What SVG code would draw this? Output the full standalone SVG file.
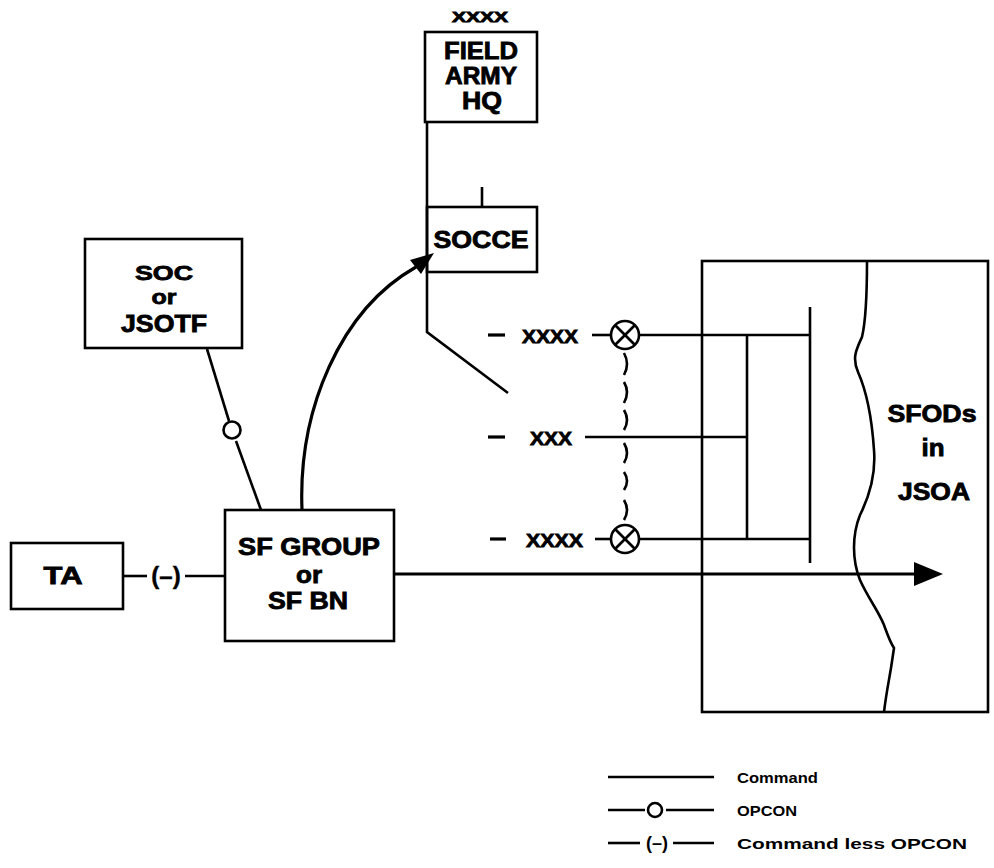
<svg xmlns="http://www.w3.org/2000/svg" width="994" height="868" viewBox="0 0 994 868">
<defs>
<style>
.box{fill:none;stroke:#000;stroke-width:2.6}
.ln{fill:none;stroke:#000;stroke-width:2.6}
.thk{fill:none;stroke:#000;stroke-width:3.2}
.t{font-family:"Liberation Sans",Arial,sans-serif;font-weight:bold;font-size:23px;text-anchor:middle;fill:#000;stroke:#000;stroke-width:0.8}
.x{font-family:"Liberation Sans",Arial,sans-serif;font-weight:bold;font-size:18px;fill:#000;stroke:#000;stroke-width:0.8}
.lg{font-family:"Liberation Sans",Arial,sans-serif;font-weight:bold;font-size:15px;fill:#000}
</style>
</defs>
<rect width="994" height="868" fill="#fff"/>

<g id="connectors">
<polyline class="ln" points="427,122 427,332 508,393"/>
<line class="ln" x1="482" y1="187" x2="482" y2="207"/>
<path class="thk" d="M302,510 C298,410 340,310 416,267"/>
<polygon points="434,253 421,274 410,260" fill="#000"/>
<line class="ln" x1="207" y1="349" x2="229" y2="421"/>
<circle class="ln" cx="232" cy="430" r="8.5"/>
<line class="ln" x1="236" y1="441" x2="261" y2="510"/>
<line class="ln" x1="123" y1="576" x2="147" y2="576"/>
<text x="166" y="584" class="t" style="font-size:24px;stroke-width:0.4">(–)</text>
<line class="ln" x1="185" y1="576" x2="225" y2="576"/>
<line class="thk" x1="394" y1="574" x2="918" y2="574"/>
<polygon points="943,574 914,562 914,586" fill="#000"/>
<line class="thk" x1="488" y1="335" x2="505" y2="335"/>
<line class="thk" x1="488" y1="437" x2="505" y2="437"/>
<line class="thk" x1="490" y1="539" x2="506" y2="539"/>
<line class="ln" x1="592" y1="335" x2="611" y2="335"/>
<line class="ln" x1="595" y1="539" x2="611" y2="539"/>
<g id="cx1">
<circle class="ln" cx="625" cy="335" r="14"/>
<line class="ln" x1="615" y1="325" x2="635" y2="345"/>
<line class="ln" x1="635" y1="325" x2="615" y2="345"/>
</g>
<g id="cx2">
<circle class="ln" cx="625" cy="539" r="14"/>
<line class="ln" x1="615" y1="529" x2="635" y2="549"/>
<line class="ln" x1="635" y1="529" x2="615" y2="549"/>
</g>
<line class="ln" x1="639" y1="335" x2="810" y2="335"/>
<line class="ln" x1="585" y1="437" x2="747" y2="437"/>
<line class="ln" x1="639" y1="539" x2="810" y2="539"/>
<line class="ln" x1="747" y1="335" x2="747" y2="539"/>
<line class="ln" x1="810" y1="307" x2="810" y2="563"/>
<g class="ln">
<path d="M624,353 Q630,364 624,375"/>
<path d="M624,382 Q630,392 624,403"/>
<path d="M624,410 Q630,420 624,430"/>
<path d="M624,443 Q630,453 624,463"/>
<path d="M624,472 Q630,481 624,490"/>
<path d="M624,500 Q630,510 624,520"/>
</g>
<path class="ln" d="M867,261 C867,300 866,320 862,337 C856,350 852,358 858,372 C866,390 872,420 874,450 C876,475 870,495 860,515 C852,535 852,560 860,580 C868,598 878,610 884,625 C888,636 890,642 894,648 L891,668 C889,680 886,695 884,712"/>
</g>

<g id="field-army-hq">
<text x="480" y="22" class="x" style="font-size:14px" text-anchor="middle" textLength="56" lengthAdjust="spacingAndGlyphs">XXXX</text>
<rect class="box" x="425" y="32" width="112" height="90"/>
<text x="481" y="59" class="t" textLength="74" lengthAdjust="spacingAndGlyphs">FIELD</text>
<text x="481" y="84" class="t" textLength="72" lengthAdjust="spacingAndGlyphs">ARMY</text>
<text x="482" y="109" class="t" textLength="40" lengthAdjust="spacingAndGlyphs">HQ</text>
</g>

<g id="socce">
<rect class="box" x="427" y="207" width="110" height="65"/>
<text x="481" y="248" class="t" textLength="95" lengthAdjust="spacingAndGlyphs">SOCCE</text>
</g>

<g id="soc-jsotf">
<rect class="box" x="85" y="239" width="157" height="109"/>
<text x="164" y="280" class="t" style="font-size:21px" textLength="58" lengthAdjust="spacingAndGlyphs">SOC</text>
<text x="164" y="304" class="t" style="font-size:21px" textLength="25" lengthAdjust="spacingAndGlyphs">or</text>
<text x="164" y="332" class="t" textLength="86" lengthAdjust="spacingAndGlyphs">JSOTF</text>
</g>

<g id="ta">
<rect class="box" x="11" y="543" width="112" height="66"/>
<text x="63" y="584" class="t" textLength="39" lengthAdjust="spacingAndGlyphs">TA</text>
</g>

<g id="sf-group">
<rect class="box" x="225" y="510" width="169" height="131"/>
<text x="309" y="555" class="t" textLength="142" lengthAdjust="spacingAndGlyphs">SF GROUP</text>
<text x="309" y="583" class="t" textLength="26" lengthAdjust="spacingAndGlyphs">or</text>
<text x="308" y="609" class="t" textLength="80" lengthAdjust="spacingAndGlyphs">SF BN</text>
</g>

<g id="echelons">
<text x="522" y="343" class="x" textLength="56" lengthAdjust="spacingAndGlyphs">XXXX</text>
<text x="530" y="445" class="x" textLength="42" lengthAdjust="spacingAndGlyphs">XXX</text>
<text x="526" y="547" class="x" textLength="57" lengthAdjust="spacingAndGlyphs">XXXX</text>
</g>

<g id="jsoa">
<rect class="box" x="702" y="261" width="286" height="451"/>
<text x="932" y="422" class="t" textLength="89" lengthAdjust="spacingAndGlyphs">SFODs</text>
<text x="933" y="456" class="t" textLength="23" lengthAdjust="spacingAndGlyphs">in</text>
<text x="934" y="500" class="t" textLength="72" lengthAdjust="spacingAndGlyphs">JSOA</text>
</g>

<g id="legend">
<line class="ln" x1="608" y1="777" x2="714" y2="777"/>
<text x="737" y="783" class="lg" textLength="81" lengthAdjust="spacingAndGlyphs">Command</text>
<line class="ln" x1="608" y1="810" x2="645" y2="810"/>
<circle class="ln" cx="655" cy="810" r="7"/>
<line class="ln" x1="666" y1="810" x2="714" y2="810"/>
<text x="737" y="816" class="lg" textLength="60" lengthAdjust="spacingAndGlyphs">OPCON</text>
<line class="ln" x1="608" y1="843" x2="640" y2="843"/>
<text x="657" y="849" class="lg" style="font-size:18px" text-anchor="middle">(–)</text>
<line class="ln" x1="673" y1="843" x2="714" y2="843"/>
<text x="737" y="849" class="lg" textLength="230" lengthAdjust="spacingAndGlyphs">Command less OPCON</text>
</g>
</svg>
